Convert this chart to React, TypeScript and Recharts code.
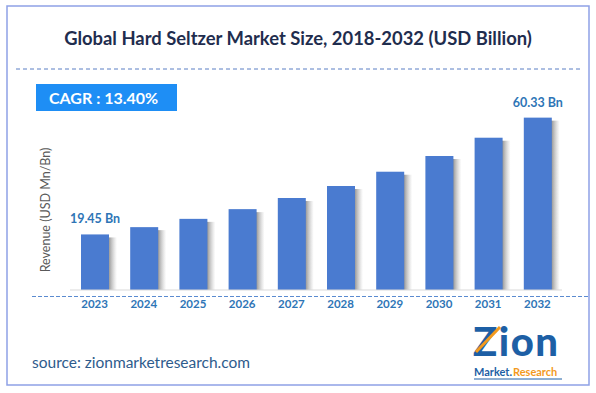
import { Bar, BarChart, LabelList, XAxis, YAxis } from "recharts";

// values (USD Billion)
const years = ["2023", "2024", "2025", "2026", "2027", "2028", "2029", "2030", "2031", "2032"];
const revenue = [19.45, 22.0, 24.9, 28.3, 32.2, 36.4, 41.4, 46.9, 53.3, 60.33];
const shownLabels = ["19.45 Bn", "", "", "", "", "", "", "", "", "60.33 Bn"];

const data = years.map((year, i) => ({ year, value: revenue[i], label: shownLabels[i] }));

const W = 596;
const H = 393;
const BAR_COLOR = "#4a7bd0";
const TEXT_BLUE = "#2e75b6";

// bar with a soft grey shadow on its right side
const ShadowBar = (props: any) => {
  const { x, y, width, height } = props;
  if (height <= 0) return null;
  return (
    <g>
      <rect x={x + width - 1} y={y + 3} width={9} height={height - 3} fill="url(#barShadow)" />
      <rect x={x} y={y} width={width} height={height} fill={BAR_COLOR} />
    </g>
  );
};

const EndLabel = (props: any) => {
  const { x, y, width, value } = props;
  if (!value) return null;
  return (
    <text
      x={x + width / 2}
      y={y - 11}
      textAnchor="middle"
      fill={TEXT_BLUE}
      fontFamily="Lato, sans-serif"
      fontWeight={700}
      fontSize={12.5}
    >
      {value}
    </text>
  );
};

export default function App() {
  return (
    <div
      style={{
        position: "absolute",
        left: 0,
        top: 0,
        width: W,
        height: H,
        background: "#fff",
        fontFamily: "Lato, sans-serif",
      }}
    >
      <svg width={W} height={H} style={{ position: "absolute", left: 0, top: 0 }}>
        <rect x={7} y={6} width={582} height={379} fill="#fff" stroke="#8ea1e6" strokeWidth={1.5} />
        <text
          x={298}
          y={45}
          textAnchor="middle"
          fill="#1f2d4e"
          fontFamily="Lato, sans-serif"
          fontWeight={700}
          fontSize={18.4}
        >
          Global Hard Seltzer Market Size, 2018-2032 (USD Billion)
        </text>
        <line x1={16} y1={69} x2={580} y2={69} stroke="#5b7fc4" strokeDasharray="4 3" strokeWidth={1} />
        <rect x={36} y={84} width={141} height={27} fill="#1e8ef5" />
        <text x={49} y={103.5} fill="#fff" fontFamily="Lato, sans-serif" fontWeight={700} fontSize={16}>
          CAGR : 13.40%
        </text>
        <line x1={32} y1={296.5} x2={588} y2={296.5} stroke="#5b8bd0" strokeDasharray="4 2" strokeWidth={1} />
        <text
          transform="translate(50, 210) rotate(-90)"
          textAnchor="middle"
          fill="#595959"
          fontFamily="Lato, sans-serif"
          fontSize={12.5}
        >
          Revenue (USD Mn/Bn)
        </text>
        <text x={32} y={368} fill="#2e5b8c" fontFamily="Lato, sans-serif" fontSize={15.5}>
          source: zionmarketresearch.com
        </text>
        {/* logo */}
        <text x={473} y={356} fill="#1d5fa5" fontFamily="Lato, sans-serif" fontWeight={900} fontSize={40} letterSpacing={1.5}>
          Zion
        </text>
        <path d="M476 352 L500 327" stroke="#f39a1e" strokeWidth={3} />
        <text x={474} y={376} fill="#1d5fa5" fontFamily="Lato, sans-serif" fontWeight={700} fontSize={11}>
          Market.
        </text>
        <text x={513} y={376} fill="#f39a1e" fontFamily="Lato, sans-serif" fontWeight={700} fontSize={11}>
          Research
        </text>
        <line x1={474} y1={379} x2={562} y2={379} stroke="#1d5fa5" strokeWidth={1} />
      </svg>
      <div style={{ position: "absolute", left: 0, top: 0 }}>
        <BarChart
          width={W}
          height={H}
          data={data}
          margin={{ top: 90, right: 34, left: 70, bottom: 73 }}
          barSize={28}
        >
          <defs>
            <linearGradient id="barShadow" x1="0" y1="0" x2="1" y2="0">
              <stop offset="0%" stopColor="#555" stopOpacity={0.7} />
              <stop offset="100%" stopColor="#999" stopOpacity={0} />
            </linearGradient>
          </defs>
          <XAxis
            dataKey="year"
            axisLine={{ stroke: "#d9d9d9" }}
            tickLine={false}
            tickMargin={4}
            interval={0}
            tick={{ fill: TEXT_BLUE, fontSize: 11.5, fontWeight: 700, fontFamily: "Lato, sans-serif" }}
          />
          <YAxis hide domain={[0, 70]} />
          <Bar dataKey="value" shape={<ShadowBar />} isAnimationActive={false}>
            <LabelList dataKey="label" content={<EndLabel />} />
          </Bar>
        </BarChart>
      </div>
    </div>
  );
}
